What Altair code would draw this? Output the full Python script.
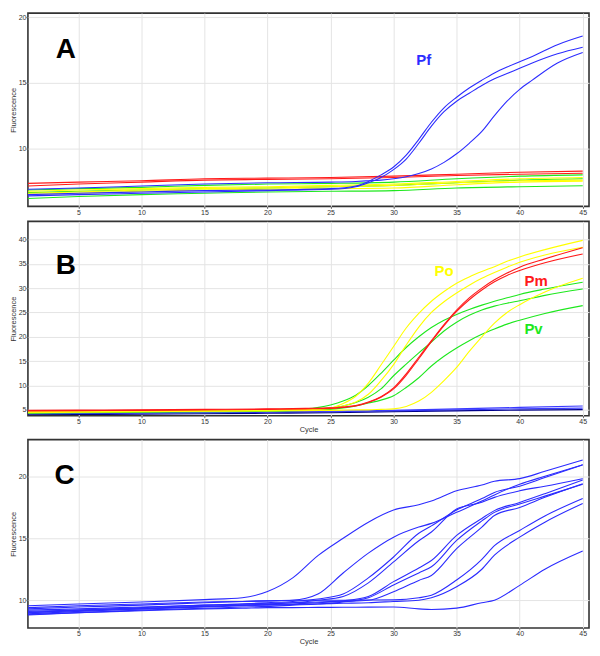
import altair as alt
import pandas as pd

# ---------------- data ----------------
X_TICKS = [5, 10, 15, 20, 25, 30, 35, 40, 45]
BASE_CYCLES = [1, 5, 10, 15, 20, 25, 30, 35, 40, 45]

# Panel A (Pf channel)
A_CYCLES = [1, 5, 10, 15, 20, 25, 27, 28, 29, 30, 31, 32, 33, 34, 35, 36, 37, 38, 39, 40, 41, 43, 45]
A_PF_1 = [6.5, 6.6, 6.7, 6.8, 6.85, 6.95, 7.15, 7.5, 8.0, 8.6, 9.5, 10.7, 12.0, 13.1, 13.9, 14.6, 15.2, 15.75, 16.2, 16.6, 17.0, 17.9, 18.56]
A_PF_2 = [6.4, 6.5, 6.6, 6.7, 6.8, 6.9, 7.1, 7.4, 7.8, 8.4, 9.2, 10.4, 11.7, 12.8, 13.6, 14.2, 14.8, 15.3, 15.7, 16.1, 16.5, 17.2, 17.7]
A_PF_3 = [6.9, 7.0, 7.15, 7.3, 7.4, 7.45, 7.5, 7.55, 7.6, 7.7, 7.85, 8.1, 8.45, 8.95, 9.6, 10.4, 11.3, 12.5, 13.6, 14.5, 15.2, 16.5, 17.3]
A_RED_1 = [7.35, 7.45, 7.55, 7.7, 7.75, 7.8, 7.9, 8.05, 8.2, 8.28]
A_RED_2 = [7.15, 7.3, 7.45, 7.6, 7.65, 7.7, 7.8, 7.95, 8.05, 8.12]
A_GREEN_1 = [6.85, 6.95, 7.05, 7.2, 7.3, 7.35, 7.45, 7.7, 7.9, 8.0]
A_GREEN_2 = [6.65, 6.75, 6.85, 6.95, 7.0, 7.1, 7.2, 7.4, 7.6, 7.7]
A_GREEN_3 = [6.2, 6.35, 6.5, 6.6, 6.7, 6.75, 6.8, 7.0, 7.1, 7.17]
A_YELLOW_1 = [6.75, 6.85, 6.95, 7.05, 7.1, 7.2, 7.3, 7.5, 7.7, 7.8]
A_YELLOW_2 = [6.6, 6.7, 6.85, 6.95, 7.0, 7.1, 7.2, 7.4, 7.55, 7.6]
A_YELLOW_3 = [6.5, 6.6, 6.75, 6.85, 6.9, 6.95, 7.0, 7.25, 7.45, 7.52]

# Panel B (Pm / Po / Pv channel)
B_CYCLES = [1, 5, 10, 15, 20, 23, 25, 26, 27, 28, 29, 30, 31, 32, 33, 34, 35, 36, 37, 38, 39, 40, 42, 45]
B_PO_1 = [4.6, 4.7, 4.8, 4.9, 5.0, 5.1, 5.4, 6.3, 7.8, 10.5, 14.2, 18.0, 21.8, 24.8, 27.3, 29.3, 31.0, 32.3, 33.4, 34.4, 35.5, 36.4, 37.9, 39.8]
B_PO_2 = [4.5, 4.6, 4.7, 4.8, 4.9, 5.0, 5.3, 5.8, 6.6, 8.2, 11.0, 14.3, 18.3, 22.0, 25.0, 27.2, 29.0, 30.6, 32.0, 33.2, 34.3, 35.3, 36.8, 38.4]
B_PO_3 = [4.4, 4.5, 4.6, 4.7, 4.8, 4.85, 4.9, 4.95, 5.0, 5.0, 5.1, 5.2, 5.7, 6.8, 8.6, 11.0, 13.7, 17.0, 20.0, 22.8, 25.0, 26.6, 29.2, 32.0]
B_PM_1 = [4.9, 4.95, 5.0, 5.1, 5.2, 5.3, 5.4, 5.6, 5.9, 6.6, 7.7, 9.5, 12.4, 15.8, 19.2, 22.5, 25.5, 28.0, 30.0, 31.7, 33.1, 34.3, 36.0, 38.3]
B_PM_2 = [4.8, 4.85, 4.9, 5.0, 5.1, 5.2, 5.3, 5.5, 5.8, 6.5, 7.6, 9.3, 12.1, 15.5, 19.0, 22.3, 25.2, 27.6, 29.6, 31.3, 32.6, 33.6, 35.2, 37.0]
B_PV_1 = [4.5, 4.6, 4.7, 4.8, 4.9, 5.2, 6.0, 6.8, 8.0, 10.0, 12.5, 15.2, 17.8, 20.0, 21.9, 23.4, 24.6, 25.6, 26.5, 27.3, 28.0, 28.7, 29.8, 31.2]
B_PV_2 = [4.4, 4.5, 4.6, 4.7, 4.8, 5.0, 5.4, 5.8, 6.5, 7.6, 9.3, 12.0, 14.4, 16.7, 18.9, 21.2, 23.0, 24.4, 25.5, 26.3, 26.9, 27.4, 28.5, 29.8]
B_PV_3 = [4.3, 4.4, 4.5, 4.6, 4.7, 4.9, 5.1, 5.4, 5.8, 6.4, 7.0, 7.9, 9.6, 11.6, 14.0, 16.0, 17.7, 19.2, 20.5, 21.6, 22.6, 23.4, 24.8, 26.4]
B_NEG_1 = [4.3, 4.35, 4.4, 4.5, 4.6, 4.7, 4.9, 5.2, 5.5, 5.8]
B_NEG_2 = [4.2, 4.25, 4.3, 4.4, 4.5, 4.6, 4.8, 5.0, 5.2, 5.35]
B_NEG_3 = [4.0, 4.05, 4.1, 4.2, 4.3, 4.4, 4.6, 4.8, 4.95, 5.05]

# Panel C (clinical samples)
C_CYCLES = [1, 5, 10, 15, 18, 20, 22, 24, 26, 28, 30, 32, 33, 35, 37, 38, 40, 42, 45]
C_S1 = [9.55, 9.7, 9.85, 10.05, 10.2, 10.7, 11.8, 13.6, 15.0, 16.3, 17.28, 17.7, 18.0, 18.83, 19.3, 19.6, 19.81, 20.4, 21.31]
C_S2 = [9.3, 9.45, 9.6, 9.8, 9.9, 9.95, 10.0, 10.5, 12.2, 13.8, 15.09, 15.9, 16.2, 17.09, 18.0, 18.5, 19.36, 20.0, 20.93]
C_S3 = [9.0, 9.2, 9.4, 9.6, 9.7, 9.8, 9.9, 10.1, 10.5, 11.8, 13.49, 15.4, 16.0, 17.28, 18.2, 18.7, 19.2, 19.9, 20.93]
C_S4 = [8.9, 9.1, 9.3, 9.5, 9.6, 9.7, 9.8, 10.0, 10.3, 11.4, 13.09, 14.8, 15.5, 17.36, 17.9, 18.3, 18.83, 19.2, 19.81]
C_S5 = [9.2, 9.3, 9.45, 9.6, 9.7, 9.75, 9.8, 9.85, 9.95, 10.3, 11.5, 12.6, 13.2, 15.23, 16.6, 17.23, 17.89, 18.6, 19.71]
C_S6 = [8.8, 9.0, 9.2, 9.35, 9.45, 9.5, 9.6, 9.7, 9.85, 10.2, 11.23, 12.2, 12.7, 14.83, 16.4, 17.09, 17.76, 18.4, 19.36]
C_S7 = [9.1, 9.2, 9.35, 9.5, 9.6, 9.65, 9.7, 9.8, 9.9, 10.0, 10.69, 11.6, 12.0, 14.16, 15.9, 16.83, 17.49, 18.3, 19.4]
C_S8 = [9.4, 9.55, 9.7, 9.85, 9.9, 9.95, 10.0, 10.0, 10.0, 10.02, 10.03, 10.2, 10.4, 11.63, 13.3, 14.4, 15.63, 16.8, 18.21]
C_S9 = [9.0, 9.15, 9.3, 9.45, 9.55, 9.6, 9.65, 9.7, 9.75, 9.8, 9.9, 10.0, 10.2, 11.09, 12.5, 13.63, 15.09, 16.3, 17.81]
C_S10 = [8.85, 9.0, 9.15, 9.3, 9.35, 9.4, 9.4, 9.42, 9.43, 9.44, 9.45, 9.3, 9.25, 9.36, 9.8, 10.0, 11.2, 12.5, 13.97]

# annotations (in data units)
LETTERS = ["A", "B", "C"]
LETTER_X = [4.0, 4.0, 3.9]
LETTER_Y = [17.5, 34.6, 20.0]
TAGS_A = {"text": ["Pf"], "x": [32.4], "y": [16.7], "group": ["Pf"]}
TAGS_B = {"text": ["Po", "Pm", "Pv"], "x": [34.0, 41.3, 41.1], "y": [33.6, 31.5, 21.5], "group": ["Po", "Pm", "Pv"]}

GROUPS = ["Pf", "Pm", "Po", "Pv", "Neg", "Ctl", "Clin"]
GROUP_COLORS = ["#2c2cff", "#ff1a1a", "#ffff00", "#1ee81e", "#3a3aff", "#00008c", "#2b2bff"]


def long_df(series):
    rows = []
    for name, group, cycles, values in series:
        for c, v in zip(cycles, values):
            rows.append({"series": name, "group": group, "cycle": c, "value": v})
    return pd.DataFrame(rows)


df_a = long_df([
    ("r1", "Pm", BASE_CYCLES, A_RED_1), ("r2", "Pm", BASE_CYCLES, A_RED_2),
    ("g1", "Pv", BASE_CYCLES, A_GREEN_1), ("g2", "Pv", BASE_CYCLES, A_GREEN_2), ("g3", "Pv", BASE_CYCLES, A_GREEN_3),
    ("y1", "Po", BASE_CYCLES, A_YELLOW_1), ("y2", "Po", BASE_CYCLES, A_YELLOW_2), ("y3", "Po", BASE_CYCLES, A_YELLOW_3),
    ("pf1", "Pf", A_CYCLES, A_PF_1), ("pf2", "Pf", A_CYCLES, A_PF_2), ("pf3", "Pf", A_CYCLES, A_PF_3),
])
df_b = long_df([
    ("n1", "Neg", BASE_CYCLES, B_NEG_1), ("n2", "Neg", BASE_CYCLES, B_NEG_2), ("n3", "Ctl", BASE_CYCLES, B_NEG_3),
    ("v1", "Pv", B_CYCLES, B_PV_1), ("v2", "Pv", B_CYCLES, B_PV_2), ("v3", "Pv", B_CYCLES, B_PV_3),
    ("o1", "Po", B_CYCLES, B_PO_1), ("o2", "Po", B_CYCLES, B_PO_2), ("o3", "Po", B_CYCLES, B_PO_3),
    ("m1", "Pm", B_CYCLES, B_PM_1), ("m2", "Pm", B_CYCLES, B_PM_2),
])
df_c = long_df([(f"s{i+1}", "Clin", C_CYCLES, s) for i, s in enumerate(
    [C_S1, C_S2, C_S3, C_S4, C_S5, C_S6, C_S7, C_S8, C_S9, C_S10])])

COLOR = alt.Scale(domain=GROUPS, range=GROUP_COLORS)
FONT = "Liberation Sans"
PLOT_W = 563


def panel(df, letter_idx, tags, ydom, yticks, height, show_xtitle):
    xaxis = alt.Axis(values=X_TICKS, title="Cycle") if show_xtitle else alt.Axis(values=X_TICKS, title=None)
    x = alt.X("cycle:Q", scale=alt.Scale(domain=[1, 45.5], nice=False, zero=False), axis=xaxis)
    y = alt.Y("value:Q", scale=alt.Scale(domain=ydom, nice=False, zero=False),
              axis=alt.Axis(values=yticks, title="Fluorescence", labelOverlap=False))
    lines = alt.Chart(df).mark_line(interpolate="monotone", strokeWidth=1.1, clip=True).encode(
        x=x, y=y, color=alt.Color("group:N", scale=COLOR, legend=None), detail="series:N")
    let_df = pd.DataFrame({"text": [LETTERS[letter_idx]], "cycle": [LETTER_X[letter_idx]],
                           "value": [LETTER_Y[letter_idx]]})
    letter = alt.Chart(let_df).mark_text(font=FONT, fontSize=28, fontWeight="bold", color="black").encode(
        x=x, y=y, text="text:N")
    layers = [lines, letter]
    if tags is not None:
        tdf = pd.DataFrame({"text": tags["text"], "cycle": tags["x"], "value": tags["y"], "group": tags["group"]})
        tag = alt.Chart(tdf).mark_text(font=FONT, fontSize=15, fontWeight="bold").encode(
            x=x, y=y, text="text:N",
            color=alt.Color("group:N", scale=COLOR, legend=None))
        layers.append(tag)
    return alt.layer(*layers).properties(width=PLOT_W, height=height)


pa = panel(df_a, 0, TAGS_A, [5.6, 20.3], [10, 15, 20], 194, False)
pb = panel(df_b, 1, TAGS_B, [3.8, 43.7], [5, 10, 15, 20, 25, 30, 35, 40], 195, True)
pc = panel(df_c, 2, None, [7.76, 22.96], [10, 15, 20], 189, True)

chart = alt.vconcat(pa, pb, pc, spacing=4).properties(
    padding={"left": 0, "top": 3, "right": 2, "bottom": 0}
).configure_axis(
    labelFont=FONT, labelFontSize=7, labelColor="#333333", labelPadding=0, labelOverlap=False,
    titleFont=FONT, titleFontSize=7.5, titleFontWeight="normal", titleColor="#333333", titlePadding=1,
    gridColor="#e4e4e4", gridWidth=1, domain=False, tickSize=2, tickColor="#666666",
).configure_view(stroke="#333333", strokeWidth=1.6)

chart.save("out.html", embed_options={"renderer": "svg", "actions": False})
